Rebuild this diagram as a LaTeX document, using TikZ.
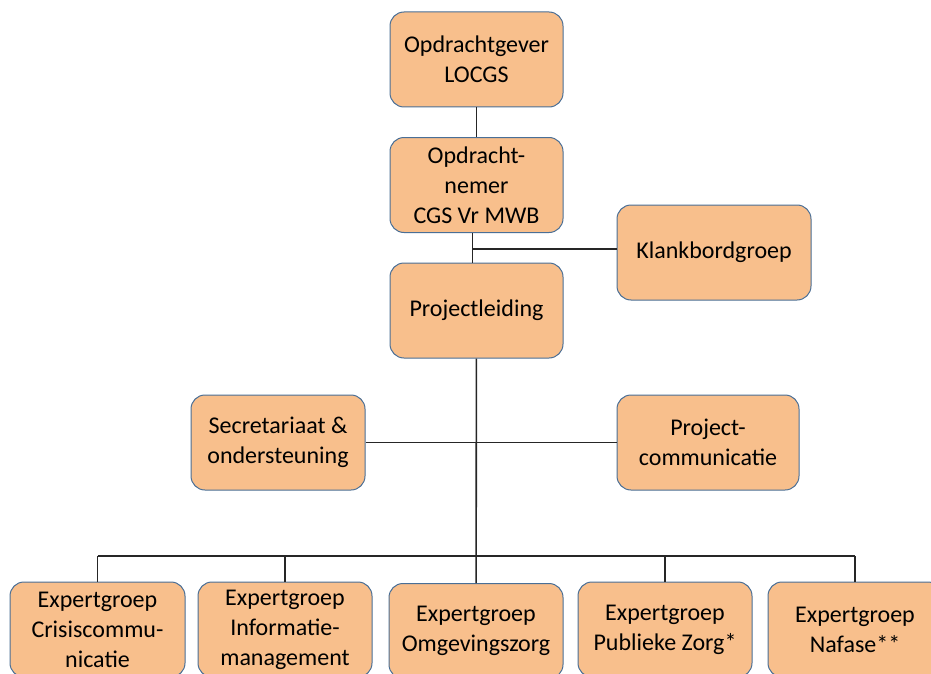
\documentclass[tikz,border=0pt]{standalone}
\usepackage{fontspec}
\setmainfont{Carlito}
\usetikzlibrary{positioning,calc}
\definecolor{boxfill}{HTML}{F8BF8C}
\definecolor{boxline}{HTML}{4A6F96}

\begin{document}
\begin{tikzpicture}[x=1pt,y=-1pt,
  box/.style={draw=boxline,fill=boxfill,rounded corners=14pt,line width=1pt,
    align=center,minimum width=173pt,minimum height=95pt,inner sep=2pt,
    font=\fontsize{24}{30}\selectfont},
  wire/.style={line width=1.6pt,black!85}]
\clip (0,0) rectangle (931,674);
\fill[white] (0,0) rectangle (931,674);

% top of the chart
\node[box] (gever) at (476.5,59.5) {Opdrachtgever\\LOCGS};
\node[box] (nemer) at (476.5,185) {Opdracht-\\nemer\\CGS Vr MWB};
\node[box] (leiding) at (476.5,310.5) {Projectleiding};
\node[box,minimum width=194pt] (klank) at (714,252.5) {Klankbordgroep};

% staff boxes
\node[box,minimum width=174pt] (secr) at (278,442.5) {Secretariaat \&\\ondersteuning};
\node[box,minimum width=182pt] (comm) at (708,442.5) {Project-\\communicatie};

% expert groups
\node[box,minimum width=175pt] (exp1) at (97.5,629.5) {Expertgroep\\Crisiscommu-\\nicatie};
\node[box,minimum width=174pt] (exp2) at (285,629.5) {Expertgroep\\Informatie-\\management};
\node[box,minimum width=174pt] (exp3) at (476,631) {Expertgroep\\Omgevingszorg};
\node[box,minimum width=174pt] (exp4) at (665,629.5) {Expertgroep\\Publieke Zorg*};
\node[box,minimum width=174pt] (exp5) at (855,629.5) {Expertgroep\\Nafase**};

\draw[wire] (gever) -- (nemer);
\draw[wire] ([xshift=-4pt]nemer.south) -- ([xshift=-4pt]leiding.north);
\coordinate (kb) at ($([xshift=-4pt]nemer.south)!0.55!([xshift=-4pt]leiding.north)$);
\draw[wire] (kb) -- (kb -| klank.west);
\draw[wire] (leiding) -- (exp3);
\draw[wire] (secr) -- (comm);

\coordinate (bus) at (476,556);
\draw[wire] (exp1.north |- bus) -- (exp5.north |- bus);
\foreach \n in {exp1,exp2,exp4,exp5}
  \draw[wire] (\n.north |- bus) -- (\n.north);
\end{tikzpicture}
\end{document}
